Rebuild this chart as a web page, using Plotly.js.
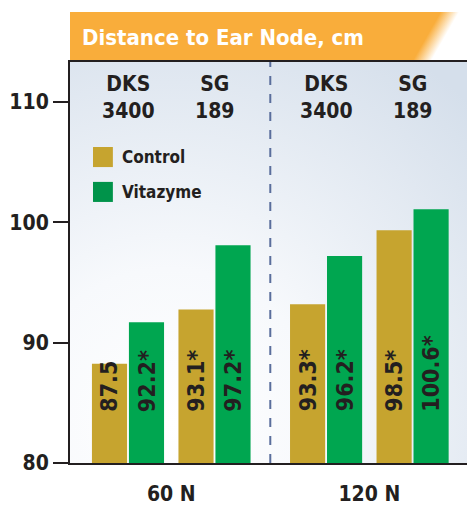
<!DOCTYPE html>
<html>
<head>
<meta charset="utf-8">
<script src="https://cdn.plot.ly/plotly-3.0.1.min.js"></script>
<style>
  html, body { margin: 0; padding: 0; background: #fff; }
  #plot { width: 467px; height: 506px; }
</style>
</head>
<body>
<div id="plot"></div>
<script>
// values (bar tops) and the printed labels
const nitrogen = ["60 N", "120 N"];
const hybrids = ["DKS 3400", "SG 189", "DKS 3400", "SG 189"];
const hybridGroup = [0, 0, 1, 1];
const controlValues = [88.25, 92.75, 93.2, 99.35];
const vitazymeValues = [91.7, 98.1, 97.2, 101.1];
const controlLabels = ["87.5", "93.1*", "93.3*", "98.5*"];
const vitazymeLabels = ["92.2*", "97.2*", "96.2*", "100.6*"];
const yTicks = [80, 90, 100, 110];

const FONT = "'Liberation Sans Narrow', 'Arial Narrow', 'DejaVu Sans Condensed', sans-serif";
const INK = "#231f20";
const GOLD = "#c6a42f";
const GREEN = "#00a650";

// spacing between N groups a bit wider than between hybrids
const groupShift = 0.29;
const xpos = hybrids.map((h, i) => i + hybridGroup[i] * groupShift);
const bargap = 0.145;
const slot = (1 - bargap) / 2;

let trace1 = {
  x: xpos, y: controlValues, type: "bar", name: "Control",
  marker: {color: GOLD}, hoverinfo: "skip"
};
let trace2 = {
  x: xpos, y: vitazymeValues, type: "bar", name: "Vitazyme",
  marker: {color: GREEN}, hoverinfo: "skip"
};

// background gradients as inline svg
const bgSvg = '<svg xmlns="http://www.w3.org/2000/svg" width="397" height="401" preserveAspectRatio="none">' +
  '<defs><radialGradient id="g" cx="0.25" cy="0.9" r="1.1">' +
  '<stop offset="0" stop-color="#ffffff"/><stop offset="0.35" stop-color="#f7f9fc"/>' +
  '<stop offset="1" stop-color="#d5dfeb"/></radialGradient></defs>' +
  '<rect width="397" height="401" fill="url(#g)"/></svg>';
const bannerSvg = '<svg xmlns="http://www.w3.org/2000/svg" width="397" height="48" preserveAspectRatio="none">' +
  '<defs><linearGradient id="b" gradientUnits="userSpaceOnUse" x1="358" y1="22" x2="372" y2="30">' +
  '<stop offset="0" stop-color="#f9ad3b"/><stop offset="1" stop-color="#ffffff"/></linearGradient></defs>' +
  '<rect width="397" height="48" fill="url(#b)"/></svg>';
const svgUri = s => "data:image/svg+xml;charset=utf-8," + encodeURIComponent(s);

let annotations = [];

// bar value labels, rotated
xpos.forEach((x, i) => {
  [[controlLabels[i], -slot / 2], [vitazymeLabels[i], slot / 2]].forEach(([t, dx]) => {
    annotations.push({
      x: x + dx, y: 84.1, xref: "x", yref: "y", text: t, showarrow: false,
      textangle: -90, yanchor: "bottom", xanchor: "center",
      font: {family: FONT, size: 23, color: INK, weight: 600}
    });
  });
});

// hybrid names at top
xpos.forEach((x, i) => {
  annotations.push({x: x, y: 0.9115, xref: "x", yref: "paper", text: hybrids[i].replace(" ", "<br>"),
    showarrow: false, yanchor: "middle",
    font: {family: FONT, size: 21, color: INK, weight: "bold"}});
});

// legend
[["Control", GOLD, 0.763], ["Vitazyme", GREEN, 0.676]].forEach(([t, c, yc]) => {
  annotations.push({x: 0.126, y: yc, xref: "paper", yref: "paper", text: t, showarrow: false,
    xanchor: "left", yanchor: "middle", font: {family: FONT, size: 17, color: INK, weight: "bold"}});
});

let shapes = [
  {type: "rect", xref: "paper", yref: "paper", x0: 0.058, x1: 0.108, y0: 0.738, y1: 0.788,
   fillcolor: GOLD, line: {width: 0}},
  {type: "rect", xref: "paper", yref: "paper", x0: 0.058, x1: 0.108, y0: 0.651, y1: 0.701,
   fillcolor: "#00934a", line: {width: 0}},
  // divider between N rates
  {type: "line", xref: "x", yref: "paper", x0: (xpos[1] + xpos[2]) / 2, x1: (xpos[1] + xpos[2]) / 2,
   y0: 0, y1: 1, line: {color: "#5a6e9c", width: 2, dash: "dash"}, layer: "below"}
];

const groupCenters = nitrogen.map((n, g) => {
  const xs = xpos.filter((x, i) => hybridGroup[i] === g);
  return (xs[0] + xs[xs.length - 1]) / 2;
});

let layout = {
  width: 467, height: 506,
  margin: {l: 70, r: 0, t: 62, b: 43},
  paper_bgcolor: "#ffffff",
  plot_bgcolor: "rgba(0,0,0,0)",
  showlegend: false,
  barmode: "group",
  bargap: bargap,
  bargroupgap: 0.05,
  title: {
    text: "Distance to Ear Node, cm",
    x: 82 / 467, xanchor: "left", y: 1 - 37 / 506, yanchor: "middle",
    font: {family: FONT, size: 22, color: "#ffffff", weight: "bold"}
  },
  xaxis: {
    range: [-0.6705, 3.919],
    tickvals: groupCenters, ticktext: nitrogen,
    ticks: "outside", ticklen: 11, tickcolor: "rgba(0,0,0,0)",
    tickfont: {family: FONT, size: 21, color: INK, weight: "bold"},
    showgrid: false, zeroline: false,
    showline: true, mirror: true, linewidth: 2, linecolor: INK
  },
  yaxis: {
    range: [80, 113.33],
    tickvals: yTicks,
    ticks: "outside", ticklen: 15, tickwidth: 2, tickcolor: INK,
    tickfont: {family: FONT, size: 21, color: INK, weight: "bold"},
    showgrid: false, zeroline: false,
    showline: true, linewidth: 2, linecolor: INK
  },
  yaxis2: {
    overlaying: "y", side: "left", anchor: "x",
    range: [80, 113.33], tickvals: yTicks,
    ticks: "inside", ticklen: 15, tickwidth: 2, tickcolor: INK,
    showticklabels: false, showgrid: false, zeroline: false, showline: false
  },
  images: [
    {source: svgUri(bgSvg), xref: "paper", yref: "paper", x: 0, y: 1, sizex: 1, sizey: 1,
     sizing: "stretch", layer: "below", xanchor: "left", yanchor: "top"},
    {source: svgUri(bannerSvg), xref: "paper", yref: "paper", x: 0, y: (463 - 12) / 401,
     sizex: 1, sizey: 48 / 401, sizing: "stretch", layer: "below", xanchor: "left", yanchor: "top"}
  ],
  shapes: shapes,
  annotations: annotations
};

Plotly.newPlot("plot", [trace1, trace2], layout, {displayModeBar: false, staticPlot: true});
</script>
</body>
</html>
